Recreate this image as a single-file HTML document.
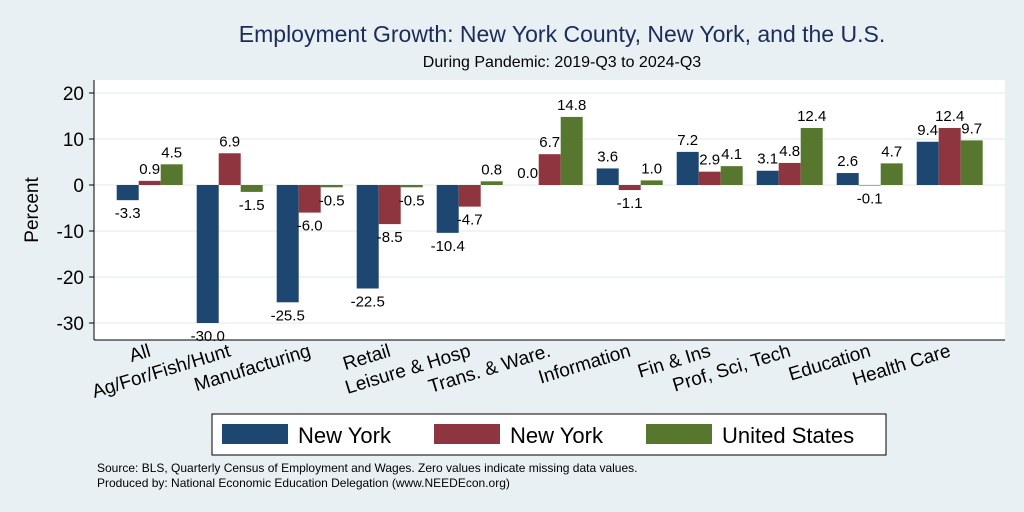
<!DOCTYPE html>
<html><head><meta charset="utf-8"><style>
body{margin:0;background:#e9f0f3;}
svg{display:block;font-family:"Liberation Sans",Arial,sans-serif;}
</style></head><body>
<svg width="1024" height="512" viewBox="0 0 1024 512">
<rect width="1024" height="512" fill="#e9f0f3"/>
<text x="562" y="42" font-size="23" fill="#1a2d5a" text-anchor="middle">Employment Growth: New York County, New York, and the U.S.</text>
<text x="562" y="67" font-size="16" fill="#000" text-anchor="middle">During Pandemic: 2019-Q3 to 2024-Q3</text>
<rect x="94" y="80" width="911" height="260" fill="#fff"/>
<g id="grid"></g>
<g id="bars"></g>
<line x1="94" y1="80" x2="94" y2="340" stroke="#000" stroke-width="1"/>
<line x1="94" y1="340" x2="1005" y2="340" stroke="#000" stroke-width="1"/>
<g id="ylabels"></g>
<g id="xlabels"></g>
<text transform="translate(38,210) rotate(-90)" font-size="19" text-anchor="middle">Percent</text>
<g>
<rect x="212" y="414" width="674" height="41" fill="#fff" stroke="#000" stroke-width="1"/>
<rect x="222" y="424" width="66" height="20" fill="#1d4771"/>
<text x="298" y="443" font-size="22">New York</text>
<rect x="434" y="424" width="66" height="20" fill="#8f353f"/>
<text x="510" y="443" font-size="22">New York</text>
<rect x="646" y="424" width="66" height="20" fill="#57772f"/>
<text x="722" y="443" font-size="22">United States</text>
</g>
<text x="97" y="472" font-size="12">Source: BLS, Quarterly Census of Employment and Wages. Zero values indicate missing data values.</text>
<text x="97" y="487" font-size="12">Produced by: National Economic Education Delegation (www.NEEDEcon.org)</text>
</svg>
<script>
const categories=["All","Ag/For/Fish/Hunt","Manufacturing","Retail","Leisure & Hosp","Trans. & Ware.","Information","Fin & Ins","Prof, Sci, Tech","Education","Health Care"];
const nyCounty=[-3.3,-30.0,-25.5,-22.5,-10.4,0.0,3.6,7.2,3.1,2.6,9.4];
const nyState=[0.9,6.9,-6.0,-8.5,-4.7,6.7,-1.1,2.9,4.8,-0.1,12.4];
const usValues=[4.5,-1.5,-0.5,-0.5,0.8,14.8,1.0,4.1,12.4,4.7,9.7];
const yTicks=[-30,-20,-10,0,10,20];
const seriesNames=["ny-county","ny-state","us"];
const NS="http://www.w3.org/2000/svg";
const colors=["#1d4771","#8f353f","#57772f"];
function yScale(v){return 185-v*4.6;}
function xGroup(i){return 116.7+80*i;}
const barW=22;
function mk(tag,attrs,parent,txt){const e=document.createElementNS(NS,tag);for(const k in attrs)e.setAttribute(k,attrs[k]);if(txt!==undefined)e.textContent=txt;document.getElementById(parent).appendChild(e);return e;}
yTicks.forEach(t=>{
  const y=yScale(t);
  const g=mk('line',{x1:94,x2:1005,y1:y,y2:y,stroke:'#eaf0f2','stroke-width':1.5},'grid');
  
  
  const tk=mk('line',{x1:89,x2:94,y1:y,y2:y,stroke:'#000'},'grid');
  
  
  const l=mk('text',{x:84,y:y+7,'font-size':19,'text-anchor':'end'},'ylabels',String(t));
  
  
});
const series=[nyCounty,nyState,usValues];
categories.forEach((c,i)=>{
  series.forEach((s,j)=>{
    const v=s[i];const x=xGroup(i)+j*barW;
    const y0=yScale(0),y1=yScale(v);
    const r=mk('rect',{x:x,y:Math.min(y0,y1),width:barW,height:Math.max(Math.abs(y1-y0),0.01),fill:colors[j]},'bars');
    
    
    const ly=v>=0?y1-7:y1+18;
    const t=mk('text',{x:x+barW/2,y:ly,'font-size':15,'text-anchor':'middle'},'bars',v.toFixed(1));
    
    
  });
  const cx=xGroup(i)+33;
  const xl=mk('text',{x:0,y:0,'font-size':19,'text-anchor':'end',transform:'translate('+(cx+2)+',356) rotate(-17)'},'xlabels',c);
  
  
});
</script>
</body></html>
